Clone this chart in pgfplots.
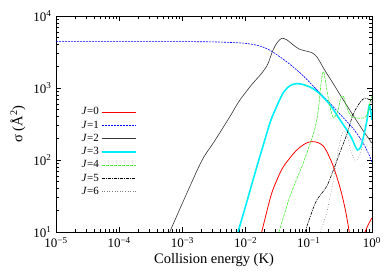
\documentclass[border=0pt]{standalone}
\usepackage{fontspec}
\setmainfont{Liberation Serif}
\usepackage{pgfplots}
\pgfplotsset{compat=1.18}
\definecolor{jgreen}{RGB}{70,235,50}
\definecolor{jcyan}{RGB}{0,240,250}
\definecolor{jred}{RGB}{255,0,0}
\begin{document}
\fontsize{13}{15}\selectfont
\begin{tikzpicture}
\begin{loglogaxis}[
  scale only axis, width=316pt, height=216pt,
  xmin=1e-5, xmax=1, ymin=10, ymax=1e4,
  tick align=inside,
  major tick length=5pt, minor tick length=3pt,
  axis line style={line width=0.8pt},
  every tick/.style={black, line width=0.5pt},
  xtick={1e-5,1e-4,1e-3,1e-2,1e-1,1},
  xticklabels={10\textsuperscript{−5},10\textsuperscript{−4},10\textsuperscript{−3},10\textsuperscript{−2},10\textsuperscript{−1},10\textsuperscript{0}},
  ytick={10,100,1000,10000},
  yticklabels={10\textsuperscript{1},10\textsuperscript{2},10\textsuperscript{3},10\textsuperscript{4}},
  tick label style={font=\fontsize{13}{15}\selectfont},
  xticklabel style={yshift=-1pt},
  xlabel={Collision energy (K)},
  ylabel={σ (Å\textsuperscript{2})},
  label style={font=\fontsize{14.5}{16}\selectfont},
  xlabel style={yshift=3pt},
  ylabel style={yshift=-1pt},
  legend plot pos=right,
  legend cell align=right,
  legend style={draw=none, fill=none, at={(rel axis cs:0.065,0.595)}, anchor=north west, row sep=0pt, font=\fontsize{11}{12}\selectfont},
  legend image code/.code={\draw[#1] (0pt,0pt) -- (34pt,0pt);},
  every axis plot/.append style={line width=0.6pt},
]
\addlegendimage{color=jred, line width=0.9pt}
\addlegendentry{\textit{J}=0}
\addlegendimage{color=blue, line width=0.7pt, dash pattern=on 2pt off 1pt}
\addlegendentry{\textit{J}=1}
\addlegendimage{color=black!80, line width=0.6pt}
\addlegendentry{\textit{J}=2}
\addlegendimage{color=jcyan, line width=1.6pt}
\addlegendentry{\textit{J}=3}
\addlegendimage{color=jgreen, line width=0.6pt, dash pattern=on 3pt off 1pt}
\addlegendentry{\textit{J}=4}
\addlegendimage{color=black, line width=0.6pt, dash pattern=on 3pt off 1pt on 1pt off 1pt}
\addlegendentry{\textit{J}=5}
\addlegendimage{color=gray, line width=0.6pt, dotted}
\addlegendentry{\textit{J}=6}
% J=0
\addplot[color=jred, smooth, line width=0.8pt, forget plot] coordinates {
(0.018,10) (0.0251,31.6) (0.0316,53.7) (0.0398,81.3) (0.0631,135) (0.0891,170) (0.112,180) (0.141,174) (0.178,148) (0.24,85) (0.316,39.8) (0.38,20) (0.437,10)
};
% J=1
\addplot[blue, smooth, dash pattern=on 2pt off 1pt, forget plot] coordinates {
(1e-5,4400) (1e-3,4400) (3.16e-3,4365) (6.31e-3,4270) (0.01,4170) (0.0158,3890) (0.0224,3470) (0.0316,2880) (0.0501,2140) (0.0794,1510) (0.126,1000) (0.2,660) (0.316,427) (0.5,275) (0.708,178) (0.891,120) (1,93)
};
% J=2
\addplot[black!80, smooth, forget plot] coordinates {
(6.31e-4,10) (1e-3,25.1) (2e-3,95.5) (3.16e-3,178) (5.62e-3,398) (7.94e-3,661) (0.0126,1122) (0.0178,1585) (0.0224,2138) (0.0269,3311) (0.0316,4266) (0.0372,4898) (0.0447,4677) (0.0562,3981) (0.0708,3467) (0.0891,3273) (0.112,3090) (0.135,2692) (0.178,1778) (0.24,1175) (0.316,794) (0.447,490) (0.708,263) (1,172)
};
% J=3
\addplot[jcyan, smooth, line width=1.6pt, forget plot] coordinates {
(7.59e-3,10) (0.01,22.9) (0.0141,66) (0.02,186) (0.0251,355) (0.0316,575) (0.0398,871) (0.0501,1072) (0.0631,1148) (0.0794,1122) (0.112,1000) (0.158,794) (0.224,562) (0.316,355) (0.398,263) (0.479,200) (0.537,158) (0.589,138) (0.661,151) (0.724,200) (0.832,355) (0.902,575) (0.955,479) (1,363)
};
% J=4
\addplot[jgreen, smooth, dash pattern=on 3pt off 1pt, forget plot] coordinates {
(0.0339,10) (0.0501,30.9) (0.0794,85) (0.107,178) (0.126,282) (0.141,490) (0.158,1259) (0.17,1698) (0.182,1318) (0.195,891) (0.219,525) (0.245,389) (0.282,457) (0.324,741) (0.355,759) (0.389,575) (0.447,427) (0.525,389) (0.661,380) (0.794,398) (0.891,525) (0.955,700) (1,760)
};
% J=5
\addplot[black, smooth, dash pattern=on 3pt off 1pt on 1pt off 1pt, forget plot] coordinates {
(0.0871,10) (0.105,16.2) (0.133,27.5) (0.191,42.7) (0.245,72.4) (0.309,126) (0.398,224) (0.501,427) (0.646,631) (0.776,724) (0.933,676) (1,631)
};
% J=6
\addplot[gray, smooth, dotted, forget plot] coordinates {
(0.151,10) (0.191,18.2) (0.245,52.5) (0.275,100) (0.316,191) (0.355,251) (0.398,224) (0.468,132) (0.537,100) (0.631,112) (0.741,178) (0.851,209) (0.955,166) (1,141)
};
% J=0 second branch
\addplot[color=jred, smooth, line width=0.8pt, forget plot] coordinates {
(0.776,10) (0.871,12.6) (1,15.8)
};
\end{loglogaxis}
\pgfresetboundingbox
\path (current axis.south west) ++(-56pt,-42pt) coordinate (bbA);
\path (current axis.north east) ++(20pt,16pt) coordinate (bbB);
\useasboundingbox (bbA) rectangle (bbB);
\end{tikzpicture}
\end{document}
